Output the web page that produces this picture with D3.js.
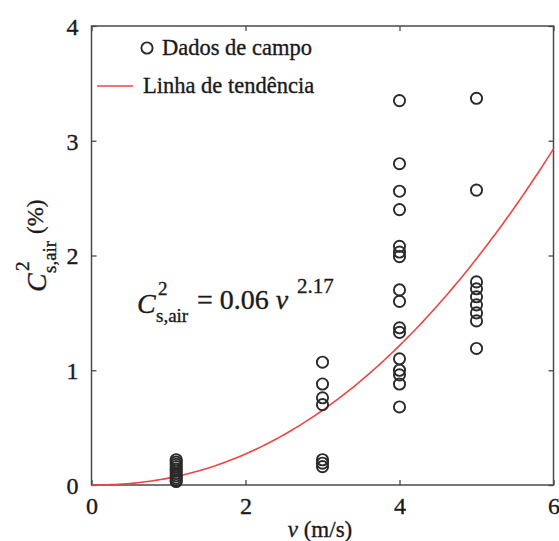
<!DOCTYPE html>
<html>
<head>
<meta charset="utf-8">
<script src="https://cdn.jsdelivr.net/npm/d3@7"></script>
<style>
  html, body { margin: 0; padding: 0; background: #fff; }
  svg { display: block; }
</style>
</head>
<body>
<svg id="chart" width="559" height="541"></svg>
<script>
// Field measurements: wind speed v (m/s) and C²s,air (%)
const speedGroups = [1.1, 3, 4, 5];
const valuesAt1_1 = [0.22, 0.20, 0.18, 0.16, 0.14, 0.12, 0.10, 0.08, 0.06, 0.04, 0.03];
const valuesAt3 = [1.07, 0.88, 0.76, 0.70, 0.22, 0.19, 0.16];
const valuesAt4 = [3.35, 2.80, 2.56, 2.40, 2.08, 2.03, 1.99, 1.70, 1.60, 1.37, 1.33, 1.10, 1.00, 0.96, 0.88, 0.68];
const valuesAt5 = [3.37, 2.57, 1.77, 1.71, 1.64, 1.57, 1.50, 1.43, 1.19];

// Power-law trend: C² = a · v^b
const trendCoef = 0.06;
const trendExp = 2.17;

const xTicks = [0, 2, 4, 6];
const yTicks = [0, 1, 2, 3, 4];
const legendLabels = ["Dados de campo", "Linha de tendência"];

const points = [];
[valuesAt1_1, valuesAt3, valuesAt4, valuesAt5].forEach((vals, i) => {
  vals.forEach(c => points.push({ v: speedGroups[i], c }));
});

const serif = 'Liberation Serif, Times New Roman, Times, serif';
const svg = d3.select("#chart");
const plotLeft = 91.5, plotTop = 26, plotRight = 553.5, plotBottom = 485;

const x = d3.scaleLinear().domain([0, 6]).range([plotLeft, plotRight]);
const y = d3.scaleLinear().domain([0, 4]).range([plotBottom, plotTop]);

const axisColor = "#4a4a4a";
const textColor = "#1a1a1a";

// Frame
svg.append("rect")
  .attr("x", plotLeft).attr("y", plotTop)
  .attr("width", plotRight - plotLeft).attr("height", plotBottom - plotTop)
  .attr("fill", "none").attr("stroke", axisColor).attr("stroke-width", 1.5);

// Axes with inward ticks
const tickLen = 5;
const xAxis = svg.append("g").attr("transform", `translate(0,${plotBottom})`)
  .call(d3.axisBottom(x).tickValues(xTicks).tickSize(-tickLen).tickPadding(12).tickFormat(d3.format("d")));
const yAxis = svg.append("g").attr("transform", `translate(${plotLeft},0)`)
  .call(d3.axisLeft(y).tickValues(yTicks).tickSize(-tickLen).tickPadding(13).tickFormat(d3.format("d")));
svg.append("g").attr("transform", `translate(0,${plotTop})`)
  .call(d3.axisTop(x).tickValues(xTicks).tickSize(-tickLen).tickFormat(""));
svg.append("g").attr("transform", `translate(${plotRight},0)`)
  .call(d3.axisRight(y).tickValues(yTicks).tickSize(-tickLen).tickFormat(""));

svg.selectAll(".domain").remove();
svg.selectAll(".tick line").attr("stroke", axisColor).attr("stroke-width", 1.3);
svg.selectAll(".tick text")
  .style("font-family", serif)
  .style("font-size", "24px")
  .attr("fill", textColor)
  .attr("stroke", textColor)
  .attr("stroke-width", 0.35);
xAxis.selectAll(".tick text").attr("dy", "0.71em");
yAxis.selectAll(".tick text").attr("dy", "0.35em");

// Trend line
const curve = d3.range(0, 6.0001, 0.05).map(v => ({ v, c: trendCoef * Math.pow(v, trendExp) }));
svg.append("path")
  .datum(curve)
  .attr("fill", "none")
  .attr("stroke", "#ee4444")
  .attr("stroke-width", 1.6)
  .attr("d", d3.line().x(d => x(d.v)).y(d => y(d.c)));

// Data points
svg.append("g").selectAll("circle")
  .data(points)
  .join("circle")
  .attr("cx", d => x(d.v))
  .attr("cy", d => y(d.c))
  .attr("r", 5.6)
  .attr("fill", "none")
  .attr("stroke", "#2a2a2a")
  .attr("stroke-width", 1.9);

// Small helper for serif text
function label(parent, px, py, str, size, italic) {
  return parent.append("text")
    .attr("x", px).attr("y", py)
    .style("font-family", serif)
    .style("font-size", size + "px")
    .style("font-style", italic ? "italic" : "normal")
    .attr("fill", textColor)
    .attr("stroke", textColor)
    .attr("stroke-width", 0.35)
    .text(str);
}

// Legend
const lg = svg.append("g");
lg.append("circle").attr("cx", 147).attr("cy", 48).attr("r", 5.6)
  .attr("fill", "none").attr("stroke", "#2a2a2a").attr("stroke-width", 1.9);
label(lg, 162, 55, legendLabels[0], 22.5);
lg.append("line").attr("x1", 97).attr("x2", 133).attr("y1", 86).attr("y2", 86)
  .attr("stroke", "#ee4444").attr("stroke-width", 1.6);
label(lg, 143, 93, legendLabels[1], 22.5);

// Equation annotation
const eq = svg.append("g");
label(eq, 137, 313, "C", 28, true);
label(eq, 158, 295, "2", 19);
label(eq, 156, 322, "s,air", 19);
label(eq, 197, 309, "= 0.06 ", 28).append("tspan").style("font-style", "italic").text("v");
label(eq, 297, 293, trendExp.toFixed(2), 21);

// Axis titles
const yl = svg.append("g").attr("transform", "translate(46,250) rotate(-90)");
label(yl, -42, 0, "C", 28, true);
label(yl, -21, -17, "2", 19);
label(yl, -23, 10, "s,air", 19);
label(yl, 16, -3, "(%)", 23);

const xl = label(svg, 320, 537, "", 23).attr("text-anchor", "middle");
xl.append("tspan").style("font-style", "italic").text("v");
xl.append("tspan").text(" (m/s)");
</script>
</body>
</html>
